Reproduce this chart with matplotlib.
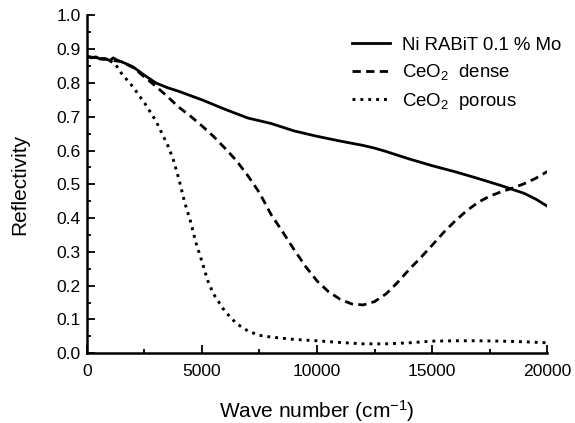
import matplotlib
matplotlib.use("Agg")
import matplotlib.pyplot as plt
from matplotlib.ticker import MultipleLocator, FormatStrFormatter

plt.rcParams['font.family'] = ['Liberation Sans', 'DejaVu Sans']
plt.rcParams['mathtext.default'] = 'regular'
plt.rcParams['font.size'] = 13.4

# Ni RABiT 0.1 % Mo (solid)
wn_ni = [0, 200, 400, 600, 800, 1000, 1150, 1300, 1600, 2000, 2500, 3000, 3500, 4000,
         5000, 5500, 6000, 7000, 8000, 9000, 10000, 11000, 12000, 12500, 13000, 14000,
         15000, 16000, 17000, 18000, 19000, 19500, 20000]
r_ni = [0.880, 0.874, 0.877, 0.870, 0.872, 0.866, 0.874, 0.868, 0.860, 0.848, 0.823,
        0.800, 0.786, 0.775, 0.750, 0.736, 0.722, 0.696, 0.680, 0.658, 0.642, 0.628,
        0.615, 0.607, 0.597, 0.575, 0.555, 0.537, 0.517, 0.496, 0.473, 0.456, 0.435]

# CeO2 dense (dashed)
wn_dense = [0, 500, 1000, 1500, 2000, 2500, 3000, 3500, 4000, 4500, 5000, 5500, 6000,
            6500, 7000, 7500, 8000, 8500, 9000, 9500, 10000, 10500, 11000, 11500, 12000,
            12500, 13000, 13500, 14000, 14500, 15000, 15500, 16000, 16500, 17000, 17500,
            18000, 18500, 19000, 19500, 20000]
r_dense = [0.878, 0.874, 0.868, 0.863, 0.846, 0.818, 0.790, 0.760, 0.728, 0.702, 0.673,
           0.642, 0.607, 0.570, 0.525, 0.475, 0.411, 0.360, 0.307, 0.257, 0.214, 0.182,
           0.160, 0.146, 0.143, 0.153, 0.176, 0.210, 0.248, 0.283, 0.320, 0.358, 0.392,
           0.422, 0.447, 0.465, 0.478, 0.489, 0.502, 0.518, 0.538]

# CeO2 porous (dotted)
wn_porous = [0, 500, 1000, 1250, 1500, 2000, 2500, 3000, 3500, 3750, 4000, 4250, 4500,
             4750, 5000, 5250, 5500, 5750, 6000, 6500, 7000, 7500, 8000, 9000, 10000,
             11000, 12000, 13000, 14000, 15000, 16000, 17000, 18000, 19000, 20000]
r_porous = [0.878, 0.874, 0.866, 0.855, 0.829, 0.789, 0.742, 0.688, 0.618, 0.575, 0.516,
            0.447, 0.392, 0.325, 0.272, 0.216, 0.176, 0.150, 0.124, 0.088, 0.066, 0.053,
            0.048, 0.041, 0.037, 0.032, 0.028, 0.028, 0.031, 0.036, 0.037, 0.037, 0.036,
            0.034, 0.031]

fig = plt.figure(figsize=(5.75, 4.23), dpi=100)
ax = fig.add_axes([0.1508, 0.1648, 0.8012, 0.799])

ax.plot(wn_ni, r_ni, color='black', lw=2.0, label='Ni RABiT 0.1 % Mo')
ax.plot(wn_dense, r_dense, color='black', lw=2.0, dashes=(3.0, 1.9),
        label='CeO$_2$  dense')
ax.plot(wn_porous, r_porous, color='black', lw=2.1, dashes=(1.0, 1.7),
        label='CeO$_2$  porous')

ax.set_xlim(0, 20000)
ax.set_ylim(0, 1.0)
ax.xaxis.set_major_locator(MultipleLocator(5000))
ax.xaxis.set_minor_locator(MultipleLocator(2500))
ax.yaxis.set_major_locator(MultipleLocator(0.1))
ax.yaxis.set_minor_locator(MultipleLocator(0.05))
ax.yaxis.set_major_formatter(FormatStrFormatter('%.1f'))

for s in ['top', 'right']:
    ax.spines[s].set_visible(False)
for s in ['left', 'bottom']:
    ax.spines[s].set_linewidth(1.8)

ax.tick_params(which='both', direction='in', width=1.3, labelsize=12.6)
ax.tick_params(which='major', length=5.5)
ax.tick_params(which='minor', length=3)
ax.tick_params(axis='x', which='major', pad=8)
ax.tick_params(axis='y', which='major', pad=4.5)

ax.set_xlabel('Wave number (cm$^{-1}$)', fontsize=15)
ax.set_ylabel('Reflectivity', fontsize=15)
ax.xaxis.set_label_coords(0.5, -0.132)
ax.yaxis.set_label_coords(-0.124, 0.5)

ax.legend(loc='upper left', bbox_to_anchor=(0.612, 0.913), bbox_transform=fig.transFigure,
          frameon=False, borderpad=0, borderaxespad=0, handlelength=2.05,
          handletextpad=0.65, labelspacing=0.45)

fig.savefig('out.png', dpi=100)
